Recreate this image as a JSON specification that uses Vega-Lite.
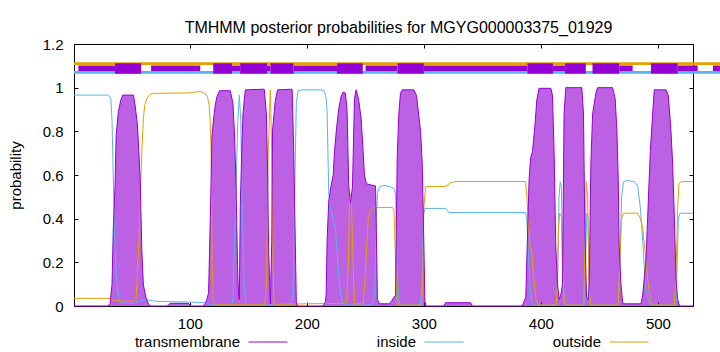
{
  "$schema": "https://vega.github.io/schema/vega-lite/v6.json",
  "width": 619,
  "height": 262,
  "autosize": {"type": "none"},
  "padding": {"left": 74, "top": 44, "right": 27, "bottom": 46},
  "background": "white",
  "config": {
    "font": "Liberation Sans",
    "view": {"stroke": "black", "strokeWidth": 1},
    "axis": {"grid": false, "domain": false, "labelFont": "Liberation Sans", "labelFontSize": 15, "labelColor": "black", "tickColor": "black", "titleFont": "Liberation Sans", "titleFontSize": 15, "titleFontWeight": "normal", "titleColor": "black"}
  },
  "title": {"text": "TMHMM posterior probabilities for MGYG000003375_01929", "font": "Liberation Sans", "fontSize": 16, "fontWeight": "normal", "color": "black", "anchor": "middle", "dx": 15, "offset": -12, "baseline": "alphabetic"},
  "datasets": {
    "prob": [
      {"x":1,"series":"inside","p":0.966},{"x":30,"series":"inside","p":0.966},{"x":32.5,"series":"inside","p":0.95},{"x":33.5,"series":"inside","p":0.85},{"x":34.5,"series":"inside","p":0.6},{"x":35.5,"series":"inside","p":0.35},{"x":37,"series":"inside","p":0.15},{"x":38.7,"series":"inside","p":0.065},{"x":40,"series":"inside","p":0.02},{"x":45,"series":"inside","p":0.012},{"x":52,"series":"inside","p":0.012},{"x":56,"series":"inside","p":0.02},{"x":60,"series":"inside","p":0.027},{"x":65,"series":"inside","p":0.027},{"x":70,"series":"inside","p":0.022},{"x":80,"series":"inside","p":0.02},{"x":100,"series":"inside","p":0.018},{"x":112,"series":"inside","p":0.015},{"x":116,"series":"inside","p":0.01},{"x":120,"series":"inside","p":0.004},{"x":136,"series":"inside","p":0.004},{"x":137,"series":"inside","p":0.05},{"x":139,"series":"inside","p":0.45},{"x":141,"series":"inside","p":0.85},{"x":142.3,"series":"inside","p":0.966},{"x":143.5,"series":"inside","p":0.85},{"x":145,"series":"inside","p":0.4},{"x":146.5,"series":"inside","p":0.08},{"x":148,"series":"inside","p":0.01},{"x":150,"series":"inside","p":0.004},{"x":186,"series":"inside","p":0.004},{"x":188,"series":"inside","p":0.05},{"x":189.5,"series":"inside","p":0.5},{"x":191,"series":"inside","p":0.93},{"x":192.5,"series":"inside","p":0.986},{"x":196,"series":"inside","p":0.99},{"x":212,"series":"inside","p":0.99},{"x":215,"series":"inside","p":0.985},{"x":216.5,"series":"inside","p":0.95},{"x":217.3,"series":"inside","p":0.89},{"x":218.7,"series":"inside","p":0.52},{"x":220,"series":"inside","p":0.45},{"x":221.6,"series":"inside","p":0.417},{"x":224.4,"series":"inside","p":0.357},{"x":227,"series":"inside","p":0.157},{"x":229,"series":"inside","p":0.05},{"x":231,"series":"inside","p":0.01},{"x":235,"series":"inside","p":0.004},{"x":256,"series":"inside","p":0.004},{"x":258,"series":"inside","p":0.05},{"x":259.3,"series":"inside","p":0.4},{"x":260.5,"series":"inside","p":0.52},{"x":262,"series":"inside","p":0.545},{"x":266,"series":"inside","p":0.553},{"x":272,"series":"inside","p":0.545},{"x":275,"series":"inside","p":0.535},{"x":276,"series":"inside","p":0.5},{"x":277,"series":"inside","p":0.2},{"x":278.5,"series":"inside","p":0.03},{"x":280,"series":"inside","p":0.004},{"x":297,"series":"inside","p":0.004},{"x":298.5,"series":"inside","p":0.1},{"x":299.7,"series":"inside","p":0.42},{"x":301,"series":"inside","p":0.447},{"x":318.6,"series":"inside","p":0.447},{"x":320,"series":"inside","p":0.44},{"x":321.2,"series":"inside","p":0.428},{"x":387,"series":"inside","p":0.428},{"x":388,"series":"inside","p":0.4},{"x":389.6,"series":"inside","p":0.2},{"x":391.3,"series":"inside","p":0.05},{"x":393,"series":"inside","p":0.01},{"x":395,"series":"inside","p":0.004},{"x":413,"series":"inside","p":0.004},{"x":414.2,"series":"inside","p":0.1},{"x":415.5,"series":"inside","p":0.5},{"x":416.5,"series":"inside","p":0.568},{"x":417.5,"series":"inside","p":0.55},{"x":418.5,"series":"inside","p":0.2},{"x":420,"series":"inside","p":0.02},{"x":421.5,"series":"inside","p":0.004},{"x":437,"series":"inside","p":0.004},{"x":438.2,"series":"inside","p":0.2},{"x":439.3,"series":"inside","p":0.426},{"x":440.3,"series":"inside","p":0.4},{"x":441.3,"series":"inside","p":0.1},{"x":442.5,"series":"inside","p":0.004},{"x":466,"series":"inside","p":0.004},{"x":467.5,"series":"inside","p":0.2},{"x":469,"series":"inside","p":0.5},{"x":470.5,"series":"inside","p":0.568},{"x":473,"series":"inside","p":0.575},{"x":480,"series":"inside","p":0.57},{"x":482.7,"series":"inside","p":0.55},{"x":485,"series":"inside","p":0.45},{"x":487,"series":"inside","p":0.3},{"x":489,"series":"inside","p":0.12},{"x":491.2,"series":"inside","p":0.04},{"x":493,"series":"inside","p":0.01},{"x":495,"series":"inside","p":0.004},{"x":515.5,"series":"inside","p":0.004},{"x":516.5,"series":"inside","p":0.2},{"x":517.5,"series":"inside","p":0.4},{"x":519,"series":"inside","p":0.425},{"x":530,"series":"inside","p":0.425},

      {"x":1,"series":"outside","p":0.035},{"x":30,"series":"outside","p":0.035},{"x":33,"series":"outside","p":0.033},{"x":35,"series":"outside","p":0.025},{"x":45,"series":"outside","p":0.022},{"x":52,"series":"outside","p":0.022},{"x":54,"series":"outside","p":0.03},{"x":55,"series":"outside","p":0.127},{"x":56.5,"series":"outside","p":0.3},{"x":57.5,"series":"outside","p":0.478},{"x":59,"series":"outside","p":0.707},{"x":60.3,"series":"outside","p":0.86},{"x":61.5,"series":"outside","p":0.92},{"x":63.2,"series":"outside","p":0.95},{"x":66,"series":"outside","p":0.97},{"x":70,"series":"outside","p":0.974},{"x":100,"series":"outside","p":0.976},{"x":104,"series":"outside","p":0.98},{"x":109,"series":"outside","p":0.982},{"x":112,"series":"outside","p":0.978},{"x":115,"series":"outside","p":0.96},{"x":116.5,"series":"outside","p":0.92},{"x":117.4,"series":"outside","p":0.85},{"x":118.2,"series":"outside","p":0.7},{"x":119.1,"series":"outside","p":0.2},{"x":120,"series":"outside","p":0.02},{"x":122,"series":"outside","p":0.005},{"x":164,"series":"outside","p":0.005},{"x":165.5,"series":"outside","p":0.1},{"x":167,"series":"outside","p":0.7},{"x":168.8,"series":"outside","p":0.99},{"x":170,"series":"outside","p":0.7},{"x":171,"series":"outside","p":0.2},{"x":172,"series":"outside","p":0.01},{"x":175,"series":"outside","p":0.008},{"x":200,"series":"outside","p":0.01},{"x":230,"series":"outside","p":0.012},{"x":234,"series":"outside","p":0.015},{"x":235.5,"series":"outside","p":0.2},{"x":236.5,"series":"outside","p":0.52},{"x":238,"series":"outside","p":0.5},{"x":239.5,"series":"outside","p":0.2},{"x":240.7,"series":"outside","p":0.01},{"x":248,"series":"outside","p":0.01},{"x":249.5,"series":"outside","p":0.1},{"x":250.9,"series":"outside","p":0.25},{"x":252.5,"series":"outside","p":0.4},{"x":254.4,"series":"outside","p":0.44},{"x":256,"series":"outside","p":0.45},{"x":273,"series":"outside","p":0.452},{"x":274.5,"series":"outside","p":0.44},{"x":275.8,"series":"outside","p":0.2},{"x":277,"series":"outside","p":0.03},{"x":278.5,"series":"outside","p":0.004},{"x":298,"series":"outside","p":0.004},{"x":299,"series":"outside","p":0.1},{"x":300,"series":"outside","p":0.45},{"x":301.5,"series":"outside","p":0.547},{"x":318,"series":"outside","p":0.547},{"x":320,"series":"outside","p":0.553},{"x":323,"series":"outside","p":0.565},{"x":327,"series":"outside","p":0.57},{"x":387,"series":"outside","p":0.57},{"x":388,"series":"outside","p":0.5},{"x":389.6,"series":"outside","p":0.35},{"x":391,"series":"outside","p":0.27},{"x":392.2,"series":"outside","p":0.25},{"x":393.5,"series":"outside","p":0.15},{"x":395.6,"series":"outside","p":0.04},{"x":398,"series":"outside","p":0.004},{"x":413,"series":"outside","p":0.004},{"x":414.2,"series":"outside","p":0.1},{"x":415,"series":"outside","p":0.35},{"x":416,"series":"outside","p":0.425},{"x":417.5,"series":"outside","p":0.41},{"x":418.5,"series":"outside","p":0.15},{"x":420,"series":"outside","p":0.02},{"x":421.5,"series":"outside","p":0.004},{"x":436.5,"series":"outside","p":0.004},{"x":437.8,"series":"outside","p":0.3},{"x":438.8,"series":"outside","p":0.57},{"x":440,"series":"outside","p":0.5},{"x":441,"series":"outside","p":0.1},{"x":442.5,"series":"outside","p":0.004},{"x":466,"series":"outside","p":0.004},{"x":467.5,"series":"outside","p":0.2},{"x":469,"series":"outside","p":0.4},{"x":470.5,"series":"outside","p":0.425},{"x":482.7,"series":"outside","p":0.425},{"x":485,"series":"outside","p":0.4},{"x":487,"series":"outside","p":0.36},{"x":489,"series":"outside","p":0.25},{"x":491.2,"series":"outside","p":0.12},{"x":493.5,"series":"outside","p":0.03},{"x":495.5,"series":"outside","p":0.004},{"x":514,"series":"outside","p":0.004},{"x":515.5,"series":"outside","p":0.15},{"x":516.9,"series":"outside","p":0.45},{"x":518,"series":"outside","p":0.56},{"x":520,"series":"outside","p":0.57},{"x":530,"series":"outside","p":0.57},

      {"x":1,"series":"transmembrane","p":0},{"x":30,"series":"transmembrane","p":0},{"x":31.8,"series":"transmembrane","p":0.01},{"x":33.5,"series":"transmembrane","p":0.1},{"x":34.6,"series":"transmembrane","p":0.356},{"x":36.1,"series":"transmembrane","p":0.554},{"x":37,"series":"transmembrane","p":0.78},{"x":38.9,"series":"transmembrane","p":0.89},{"x":41,"series":"transmembrane","p":0.943},{"x":42.7,"series":"transmembrane","p":0.966},{"x":51.8,"series":"transmembrane","p":0.966},{"x":53.2,"series":"transmembrane","p":0.92},{"x":55.2,"series":"transmembrane","p":0.83},{"x":56.5,"series":"transmembrane","p":0.7},{"x":57.5,"series":"transmembrane","p":0.586},{"x":59,"series":"transmembrane","p":0.25},{"x":60.3,"series":"transmembrane","p":0.096},{"x":62.6,"series":"transmembrane","p":0.037},{"x":64.6,"series":"transmembrane","p":0.01},{"x":66,"series":"transmembrane","p":0},{"x":81,"series":"transmembrane","p":0},{"x":83,"series":"transmembrane","p":0.012},{"x":99,"series":"transmembrane","p":0.012},{"x":101,"series":"transmembrane","p":0},{"x":111,"series":"transmembrane","p":0},{"x":113.1,"series":"transmembrane","p":0.01},{"x":114.5,"series":"transmembrane","p":0.03},{"x":116,"series":"transmembrane","p":0.06},{"x":117.5,"series":"transmembrane","p":0.4},{"x":118.9,"series":"transmembrane","p":0.776},{"x":120.2,"series":"transmembrane","p":0.852},{"x":121.7,"series":"transmembrane","p":0.92},{"x":123.2,"series":"transmembrane","p":0.96},{"x":125.4,"series":"transmembrane","p":0.986},{"x":134.5,"series":"transmembrane","p":0.986},{"x":136.8,"series":"transmembrane","p":0.93},{"x":138,"series":"transmembrane","p":0.806},{"x":139.4,"series":"transmembrane","p":0.577},{"x":140.8,"series":"transmembrane","p":0.18},{"x":141.6,"series":"transmembrane","p":0.05},{"x":142.3,"series":"transmembrane","p":0.03},{"x":143.1,"series":"transmembrane","p":0.455},{"x":144.3,"series":"transmembrane","p":0.7},{"x":145.4,"series":"transmembrane","p":0.88},{"x":147.4,"series":"transmembrane","p":0.99},{"x":163.6,"series":"transmembrane","p":0.993},{"x":165.4,"series":"transmembrane","p":0.88},{"x":166.5,"series":"transmembrane","p":0.6},{"x":167.3,"series":"transmembrane","p":0.27},{"x":168.8,"series":"transmembrane","p":0.01},{"x":170,"series":"transmembrane","p":0.3},{"x":170.7,"series":"transmembrane","p":0.806},{"x":173,"series":"transmembrane","p":0.94},{"x":175,"series":"transmembrane","p":0.99},{"x":187.4,"series":"transmembrane","p":0.993},{"x":188.7,"series":"transmembrane","p":0.73},{"x":189.6,"series":"transmembrane","p":0.45},{"x":191,"series":"transmembrane","p":0.02},{"x":192,"series":"transmembrane","p":0},{"x":214,"series":"transmembrane","p":0},{"x":215.9,"series":"transmembrane","p":0.02},{"x":216.5,"series":"transmembrane","p":0.05},{"x":217.3,"series":"transmembrane","p":0.3},{"x":218.7,"series":"transmembrane","p":0.48},{"x":220.8,"series":"transmembrane","p":0.554},{"x":222.5,"series":"transmembrane","p":0.6},{"x":223.6,"series":"transmembrane","p":0.707},{"x":225.3,"series":"transmembrane","p":0.81},{"x":227.3,"series":"transmembrane","p":0.905},{"x":229.3,"series":"transmembrane","p":0.96},{"x":231,"series":"transmembrane","p":0.98},{"x":233,"series":"transmembrane","p":0.975},{"x":234.4,"series":"transmembrane","p":0.89},{"x":235.8,"series":"transmembrane","p":0.55},{"x":237.3,"series":"transmembrane","p":0.47},{"x":239,"series":"transmembrane","p":0.55},{"x":240.7,"series":"transmembrane","p":0.95},{"x":242.1,"series":"transmembrane","p":0.99},{"x":244.1,"series":"transmembrane","p":0.95},{"x":246.4,"series":"transmembrane","p":0.86},{"x":248.1,"series":"transmembrane","p":0.707},{"x":249.2,"series":"transmembrane","p":0.6},{"x":250.9,"series":"transmembrane","p":0.56},{"x":254.4,"series":"transmembrane","p":0.555},{"x":258.7,"series":"transmembrane","p":0.55},{"x":259.5,"series":"transmembrane","p":0.3},{"x":260.3,"series":"transmembrane","p":0.03},{"x":262,"series":"transmembrane","p":0.01},{"x":270,"series":"transmembrane","p":0.01},{"x":272,"series":"transmembrane","p":0.02},{"x":275.8,"series":"transmembrane","p":0.05},{"x":277.2,"series":"transmembrane","p":0.68},{"x":278.6,"series":"transmembrane","p":0.88},{"x":280,"series":"transmembrane","p":0.974},{"x":281.5,"series":"transmembrane","p":0.99},{"x":291.4,"series":"transmembrane","p":0.99},{"x":293.7,"series":"transmembrane","p":0.965},{"x":295.7,"series":"transmembrane","p":0.87},{"x":297.2,"series":"transmembrane","p":0.8},{"x":298.6,"series":"transmembrane","p":0.65},{"x":300,"series":"transmembrane","p":0.28},{"x":300.9,"series":"transmembrane","p":0.02},{"x":302,"series":"transmembrane","p":0},{"x":317,"series":"transmembrane","p":0},{"x":318.6,"series":"transmembrane","p":0.015},{"x":340,"series":"transmembrane","p":0.015},{"x":341.5,"series":"transmembrane","p":0},{"x":384,"series":"transmembrane","p":0},{"x":387.1,"series":"transmembrane","p":0.04},{"x":389.9,"series":"transmembrane","p":0.577},{"x":391.3,"series":"transmembrane","p":0.68},{"x":392.8,"series":"transmembrane","p":0.707},{"x":394.8,"series":"transmembrane","p":0.82},{"x":396.5,"series":"transmembrane","p":0.943},{"x":398.4,"series":"transmembrane","p":0.997},{"x":408.5,"series":"transmembrane","p":0.997},{"x":409.9,"series":"transmembrane","p":0.965},{"x":411.3,"series":"transmembrane","p":0.707},{"x":412.7,"series":"transmembrane","p":0.28},{"x":414.2,"series":"transmembrane","p":0.1},{"x":415.7,"series":"transmembrane","p":0.03},{"x":417,"series":"transmembrane","p":0.05},{"x":418.5,"series":"transmembrane","p":0.1},{"x":419.8,"series":"transmembrane","p":0.88},{"x":421.3,"series":"transmembrane","p":1.0},{"x":435,"series":"transmembrane","p":1.0},{"x":436.4,"series":"transmembrane","p":0.88},{"x":437.6,"series":"transmembrane","p":0.35},{"x":439,"series":"transmembrane","p":0.04},{"x":440.5,"series":"transmembrane","p":0.03},{"x":441.3,"series":"transmembrane","p":0.1},{"x":442.7,"series":"transmembrane","p":0.65},{"x":444.2,"series":"transmembrane","p":0.88},{"x":447,"series":"transmembrane","p":0.975},{"x":448.4,"series":"transmembrane","p":1.0},{"x":461.3,"series":"transmembrane","p":1.0},{"x":463.5,"series":"transmembrane","p":0.95},{"x":465,"series":"transmembrane","p":0.8},{"x":466.1,"series":"transmembrane","p":0.58},{"x":466.9,"series":"transmembrane","p":0.28},{"x":468.4,"series":"transmembrane","p":0.1},{"x":470,"series":"transmembrane","p":0.01},{"x":485.5,"series":"transmembrane","p":0.01},{"x":487,"series":"transmembrane","p":0.05},{"x":489.8,"series":"transmembrane","p":0.21},{"x":491.2,"series":"transmembrane","p":0.4},{"x":493.5,"series":"transmembrane","p":0.707},{"x":495.5,"series":"transmembrane","p":0.88},{"x":496.9,"series":"transmembrane","p":0.99},{"x":506.9,"series":"transmembrane","p":0.99},{"x":508.9,"series":"transmembrane","p":0.965},{"x":511.2,"series":"transmembrane","p":0.8},{"x":512.6,"series":"transmembrane","p":0.65},{"x":514,"series":"transmembrane","p":0.42},{"x":515.5,"series":"transmembrane","p":0.12},{"x":516.9,"series":"transmembrane","p":0.03},{"x":518.5,"series":"transmembrane","p":0},{"x":530,"series":"transmembrane","p":0}
    ],
    "topo": [
      {"start":1,"end":554,"kind":"outside"},
      {"start":1,"end":554,"kind":"inside"},
      {"start":4.7,"end":36.1,"kind":"other"},{"start":66.9,"end":108.9,"kind":"other"},{"start":136,"end":143,"kind":"other"},{"start":166,"end":169,"kind":"other"},{"start":188.7,"end":225.8,"kind":"other"},{"start":250.1,"end":277.5,"kind":"other"},{"start":300,"end":388.5,"kind":"other"},{"start":410.3,"end":420.7,"kind":"other"},{"start":466.9,"end":478.4,"kind":"other"},{"start":516.9,"end":534,"kind":"other"},{"start":547.1,"end":554,"kind":"other"},
      {"start":36.1,"end":58.4,"kind":"tm"},{"start":120,"end":136,"kind":"tm"},{"start":143,"end":166,"kind":"tm"},{"start":169,"end":188.7,"kind":"tm"},{"start":225.8,"end":247.8,"kind":"tm"},{"start":277.5,"end":300,"kind":"tm"},{"start":388.5,"end":410.3,"kind":"tm"},{"start":420.7,"end":438.4,"kind":"tm"},{"start":444.1,"end":466.9,"kind":"tm"},{"start":494.1,"end":516.9,"kind":"tm"}
    ]
  },
  "layer": [
    {
      "data": {"name": "prob"},
      "transform": [{"filter": "datum.series === 'transmembrane'"}],
      "mark": {"type": "area", "color": "#9400d3", "opacity": 0.62},
      "encoding": {
        "x": {"field": "x", "type": "quantitative", "scale": {"domain": [1, 530], "nice": false, "zero": false},
              "axis": {"values": [100, 200, 300, 400, 500], "title": null, "tickSize": -4, "labelPadding": 14}},
        "y": {"field": "p", "type": "quantitative", "scale": {"domain": [0, 1.2], "nice": false},
              "axis": {"values": [0, 0.2, 0.4, 0.6, 0.8, 1, 1.2], "format": "~g", "title": "probability", "tickSize": -4, "labelPadding": 15, "titlePadding": 19}}
      }
    },
    {
      "data": {"name": "prob"},
      "mark": {"type": "line", "strokeWidth": 1},
      "encoding": {
        "x": {"field": "x", "type": "quantitative", "axis": null},
        "y": {"field": "p", "type": "quantitative", "axis": null},
        "color": {"field": "series", "type": "nominal",
                  "scale": {"domain": ["transmembrane", "inside", "outside"], "range": ["#9400d3", "#56b4e9", "#e69f00"]},
                  "legend": {"orient": "none", "legendX": 174, "legendY": 278, "direction": "horizontal", "title": null,
                             "symbolType": "stroke", "symbolSize": 1521, "symbolStrokeWidth": 1,
                             "labelFont": "Liberation Sans", "labelFontSize": 15, "labelColor": "black",
                             "labelAlign": "right", "labelOffset": -48, "columnPadding": 86, "labelLimit": 300}}
      }
    },
    {
      "data": {"name": "topo"},
      "transform": [{"filter": "datum.kind === 'outside'"}],
      "mark": {"type": "rect", "color": "#e69f00", "clip": false},
      "encoding": {
        "x": {"field": "start", "type": "quantitative",
              "axis": {"orient": "top", "values": [100, 200, 300, 400, 500], "labels": false, "title": null, "tickSize": -4}},
        "x2": {"field": "end"},
        "y": {"datum": 1.1038, "type": "quantitative",
              "axis": {"orient": "right", "values": [0, 0.2, 0.4, 0.6, 0.8, 1, 1.2], "labels": false, "title": null, "tickSize": -4}},
        "y2": {"datum": 1.1162}
      }
    },
    {
      "data": {"name": "topo"},
      "transform": [{"filter": "datum.kind === 'inside'"}],
      "mark": {"type": "rect", "color": "#56b4e9", "clip": false},
      "encoding": {
        "x": {"field": "start", "type": "quantitative", "axis": null},
        "x2": {"field": "end"},
        "y": {"datum": 1.064, "type": "quantitative", "axis": null},
        "y2": {"datum": 1.0763}
      }
    },
    {
      "data": {"name": "topo"},
      "transform": [{"filter": "datum.kind === 'other'"}],
      "mark": {"type": "rect", "color": "#9400d3", "clip": false},
      "encoding": {
        "x": {"field": "start", "type": "quantitative", "axis": null},
        "x2": {"field": "end"},
        "y": {"datum": 1.0763, "type": "quantitative", "axis": null},
        "y2": {"datum": 1.1015}
      }
    },
    {
      "data": {"name": "topo"},
      "transform": [{"filter": "datum.kind === 'tm'"}],
      "mark": {"type": "rect", "color": "#9400d3", "clip": false},
      "encoding": {
        "x": {"field": "start", "type": "quantitative", "axis": null},
        "x2": {"field": "end"},
        "y": {"datum": 1.064, "type": "quantitative", "axis": null},
        "y2": {"datum": 1.1116}
      }
    }
  ],
  "resolve": {"axis": {"x": "independent", "y": "independent"}}
}
